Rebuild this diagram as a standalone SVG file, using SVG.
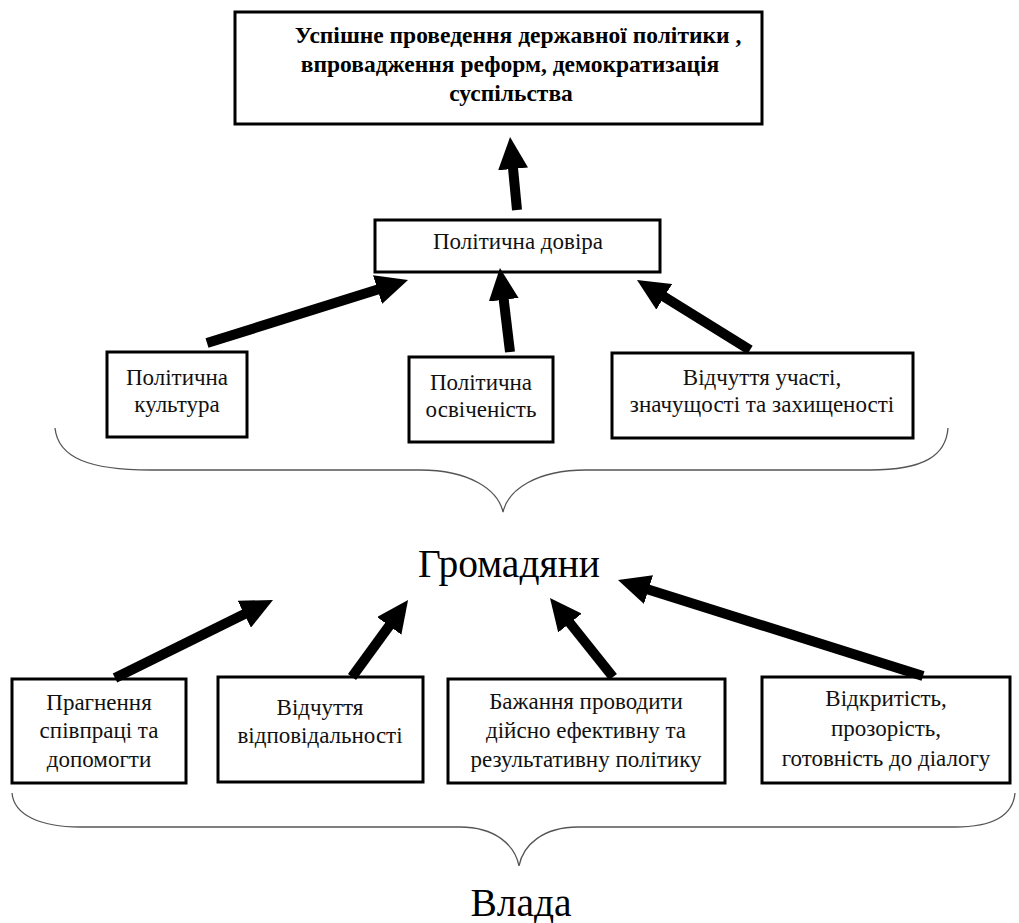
<svg xmlns="http://www.w3.org/2000/svg" width="1019" height="923" viewBox="0 0 1019 923">
<style>
.box{fill:#fff;stroke:#000;stroke-width:3}
.arr{stroke:#000;stroke-width:10;fill:none;marker-end:url(#ah)}
.brace{fill:none;stroke:#555;stroke-width:1.3}
</style>
<defs>
<marker id="ah" markerUnits="userSpaceOnUse" markerWidth="32" markerHeight="30" viewBox="0 0 32 30" refX="2" refY="15" orient="auto">
<path d="M0,0 L32,15 L0,30 z" fill="#000"/>
</marker>
</defs>
<rect width="1019" height="923" fill="#fff"/>

<g id="goal">
<rect class="box" x="235" y="12" width="527" height="112"/>
<text x="518" y="43" font-family="Liberation Serif" font-size="23.5" font-weight="bold" text-anchor="middle">Успішне проведення державної політики ,</text>
<text x="510" y="72" font-family="Liberation Serif" font-size="23.5" font-weight="bold" text-anchor="middle">впровадження реформ, демократизація</text>
<text x="511" y="101" font-family="Liberation Serif" font-size="23.5" font-weight="bold" text-anchor="middle">суспільства</text>
</g>

<g id="trust">
<rect class="box" x="375" y="220" width="285" height="52"/>
<text x="518" y="249" font-family="Liberation Serif" font-size="23" text-anchor="middle" fill="#111">Політична довіра</text>
</g>

<g id="culture">
<rect class="box" x="107" y="352" width="140" height="85"/>
<text x="177" y="385" font-family="Liberation Serif" font-size="23" text-anchor="middle" fill="#111">Політична</text>
<text x="177" y="412" font-family="Liberation Serif" font-size="23" text-anchor="middle" fill="#111">культура</text>
</g>

<g id="education">
<rect class="box" x="409" y="357" width="144" height="85"/>
<text x="481" y="390" font-family="Liberation Serif" font-size="23" text-anchor="middle" fill="#111">Політична</text>
<text x="481" y="417" font-family="Liberation Serif" font-size="23" text-anchor="middle" fill="#111">освіченість</text>
</g>

<g id="participation">
<rect class="box" x="612" y="353" width="301" height="85"/>
<text x="762" y="385" font-family="Liberation Serif" font-size="23" text-anchor="middle" fill="#111">Відчуття участі,</text>
<text x="762" y="412" font-family="Liberation Serif" font-size="23" text-anchor="middle" fill="#111">значущості та захищеності</text>
</g>

<g id="citizens">
<text x="509" y="577" font-family="Liberation Serif" font-size="39.5" text-anchor="middle">Громадяни</text>
</g>

<g id="cooperation">
<rect class="box" x="12" y="679" width="174" height="104"/>
<text x="99" y="710" font-family="Liberation Serif" font-size="23" text-anchor="middle" fill="#111">Прагнення</text>
<text x="99" y="738" font-family="Liberation Serif" font-size="23" text-anchor="middle" fill="#111">співпраці та</text>
<text x="99" y="767" font-family="Liberation Serif" font-size="23" text-anchor="middle" fill="#111">допомогти</text>
</g>

<g id="responsibility">
<rect class="box" x="218" y="677" width="205" height="105"/>
<text x="320" y="715" font-family="Liberation Serif" font-size="23" text-anchor="middle" fill="#111">Відчуття</text>
<text x="320" y="743" font-family="Liberation Serif" font-size="23" text-anchor="middle" fill="#111">відповідальності</text>
</g>

<g id="policy">
<rect class="box" x="448" y="679" width="277" height="104"/>
<text x="586" y="709" font-family="Liberation Serif" font-size="23" text-anchor="middle" fill="#111">Бажання проводити</text>
<text x="586" y="738" font-family="Liberation Serif" font-size="23" text-anchor="middle" fill="#111">дійсно ефективну та</text>
<text x="586" y="767" font-family="Liberation Serif" font-size="23" text-anchor="middle" fill="#111">результативну політику</text>
</g>

<g id="openness">
<rect class="box" x="762" y="677" width="248" height="106"/>
<text x="886" y="706" font-family="Liberation Serif" font-size="23" text-anchor="middle" fill="#111">Відкритість,</text>
<text x="886" y="736" font-family="Liberation Serif" font-size="23" text-anchor="middle" fill="#111">прозорість,</text>
<text x="886" y="766" font-family="Liberation Serif" font-size="23" text-anchor="middle" fill="#111">готовність до діалогу</text>
</g>

<g id="authority">
<text x="521" y="916" font-family="Liberation Serif" font-size="39.5" text-anchor="middle">Влада</text>
</g>

<g id="braces">
<path class="brace" d="M55,428 C58,458 90,470 150,470 L420,470 C470,470 498,490 503,512 C508,490 536,470 586,470 L870,470 C925,470 946,455 948,428"/>
<path class="brace" d="M12,793 C14,815 40,827 80,827 L460,827 C495,827 515,845 519,866 C523,845 543,827 578,827 L955,827 C995,827 1013,815 1015,793"/>
</g>

<g id="connectors">
<line class="arr" x1="517" y1="210" x2="512.9" y2="166.9"/>
<line class="arr" x1="207" y1="343" x2="379.4" y2="289"/>
<line class="arr" x1="510" y1="352" x2="503.5" y2="297.8"/>
<line class="arr" x1="750" y1="350" x2="662.5" y2="295.8"/>
<line class="arr" x1="115" y1="678" x2="246.1" y2="613.3"/>
<line class="arr" x1="352" y1="677" x2="390.4" y2="624.3"/>
<line class="arr" x1="613" y1="677" x2="568.7" y2="621.5"/>
<line class="arr" x1="923" y1="676" x2="646.6" y2="589"/>
</g>
</svg>
